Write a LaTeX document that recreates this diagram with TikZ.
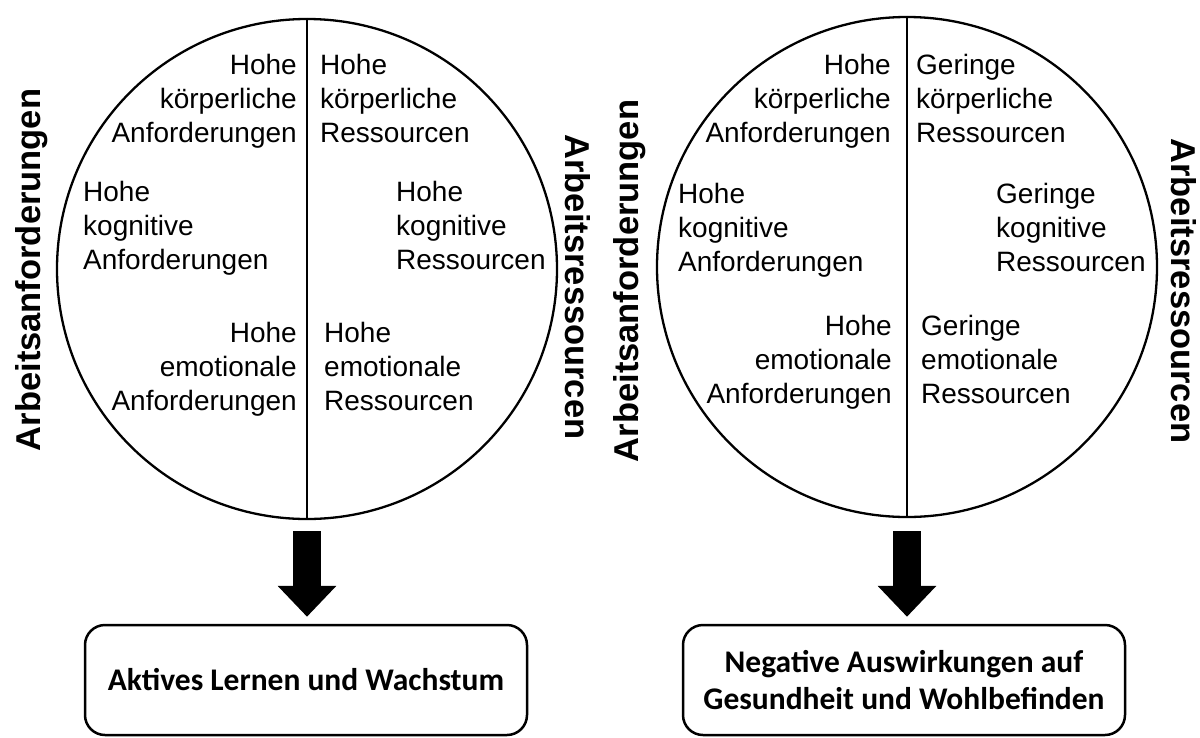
\documentclass[tikz,border=0pt]{standalone}
\usepackage{fontspec}
\setmainfont{Liberation Sans}
\newfontfamily\boxfont{Carlito}
\usetikzlibrary{arrows.meta}
\begin{document}
\begin{tikzpicture}[x=1pt,y=-1pt,
  wheel/.style={circle, draw, line width=2.3pt, minimum size=500pt, inner sep=0pt},
  divider/.style={line width=1.7pt},
  side/.style={font=\fontsize{34.5}{40}\selectfont\bfseries, inner sep=0pt},
  itemR/.style={font=\fontsize{28}{34}\selectfont, align=right, anchor=north east, inner sep=0pt},
  itemL/.style={font=\fontsize{28}{34}\selectfont, align=left, anchor=north west, inner sep=0pt},
  outcome/.style={draw, rounded corners=20pt, line width=2.5pt, minimum width=442pt, minimum height=110pt, align=center, font=\boxfont\bfseries\fontsize{31.5}{37}\selectfont},
  bigarrow/.style={line width=28pt, -{Triangle[width=57pt,length=31pt]}}
]
\useasboundingbox (0,0) rectangle (1200,737);

% left circle
\node[wheel] (C1) at (307,269) {};
\draw[divider] (C1.north) -- (C1.south);
\node[side, rotate=90] (L1) at (32,270) {Arbeitsanforderungen};
\node[side, rotate=-90] (R1) at (578,287) {Arbeitsressourcen};
\node[itemR] (a1) at (297,54) {Hohe\\körperliche\\Anforderungen};
\node[itemL] (a2) at (320,54) {Hohe\\körperliche\\Ressourcen};
\node[itemL] (a3) at (83,181) {Hohe\\kognitive\\Anforderungen};
\node[itemL] (a4) at (396,181) {Hohe\\kognitive\\Ressourcen};
\node[itemR] (a5) at (297,322) {Hohe\\emotionale\\Anforderungen};
\node[itemL] (a6) at (324,322) {Hohe\\emotionale\\Ressourcen};

% right circle
\node[wheel] (C2) at (907,267) {};
\draw[divider] (C2.north) -- (C2.south);
\node[side, rotate=90] (L2) at (630,281) {Arbeitsanforderungen};
\node[side, rotate=-90] (R2) at (1184,291) {Arbeitsressourcen};
\node[itemR] (b1) at (891,54) {Hohe\\körperliche\\Anforderungen};
\node[itemL] (b2) at (916,54) {Geringe\\körperliche\\Ressourcen};
\node[itemL] (b3) at (678,183) {Hohe\\kognitive\\Anforderungen};
\node[itemL] (b4) at (996,183) {Geringe\\kognitive\\Ressourcen};
\node[itemR] (b5) at (892,315) {Hohe\\emotionale\\Anforderungen};
\node[itemL] (b6) at (921,315) {Geringe\\emotionale\\Ressourcen};

% outcome boxes
\node[outcome] (O1) at (306,680) {Aktives Lernen und Wachstum};
\node[outcome] (O2) at (904,680) {Negative Auswirkungen auf\\Gesundheit und Wohlbefinden};

% arrows
\draw[bigarrow, shorten <=11pt, shorten >=7pt] (C1.south) -- (C1.south |- O1.north);
\draw[bigarrow, shorten <=13pt, shorten >=7pt] (C2.south) -- (C2.south |- O2.north);
\end{tikzpicture}
\end{document}
